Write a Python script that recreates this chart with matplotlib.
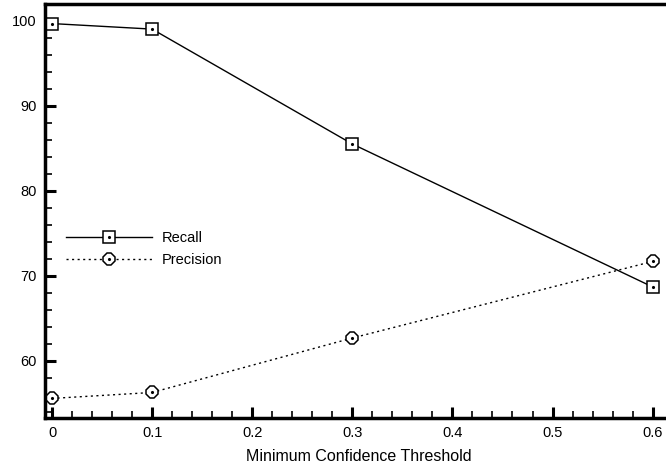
import matplotlib
matplotlib.use("Agg")
import matplotlib.pyplot as plt
from matplotlib.legend_handler import HandlerTuple
from matplotlib.ticker import MultipleLocator

thresholds = [0, 0.1, 0.3, 0.6]
recall = [99.65, 99.0, 85.5, 68.7]
precision = [55.6, 56.3, 62.7, 71.7]
x_ticks = [0, 0.1, 0.2, 0.3, 0.4, 0.5, 0.6]
x_tick_labels = ["0", "0.1", "0.2", "0.3", "0.4", "0.5", "0.6"]
y_ticks = [60, 70, 80, 90, 100]

plt.rcParams['font.family'] = ['Liberation Sans', 'DejaVu Sans']

fig = plt.figure(figsize=(6.66, 4.70), dpi=100)
ax = fig.add_axes([45/666, 1-418/470, 1 - 45/666 + 0.01, (418-4)/470])

l1, = ax.plot(thresholds, recall, color='black', lw=1.0, marker='s', ms=9,
              mfc='white', mec='black', mew=1.1)
d1, = ax.plot(thresholds, recall, ls='none', marker='.', ms=2.5, color='black')
l2, = ax.plot(thresholds, precision, color='black', lw=1.0, ls=(0, (1.5, 2.5)),
              marker='8', ms=9, mfc='white', mec='black', mew=1.1)
d2, = ax.plot(thresholds, precision, ls='none', marker='.', ms=2.5, color='black')

ax.set_xlim(-0.007, 0.62)
ax.set_ylim(53.3, 101.95)
ax.set_xticks(x_ticks)
ax.set_xticklabels(x_tick_labels)
ax.set_yticks(y_ticks)
ax.xaxis.set_minor_locator(MultipleLocator(0.02))
ax.yaxis.set_minor_locator(MultipleLocator(2))
ax.tick_params(which='major', direction='in', length=8, width=2.2, labelsize=10.5, pad=6)
ax.tick_params(which='minor', direction='in', length=5, width=1.2)
ax.tick_params(top=False, right=False, which='both')

for s in ['left', 'bottom', 'top']:
    ax.spines[s].set_linewidth(2.5)
ax.spines['right'].set_visible(False)

ax.set_xlabel("Minimum Confidence Threshold", fontsize=11.5, labelpad=6)

leg = ax.legend([(l1, d1), (l2, d2)], ["Recall", "Precision"],
                handler_map={tuple: HandlerTuple(ndivide=1)},
                loc='upper left', bbox_to_anchor=(0.012, 0.483), frameon=False,
                handlelength=5.9, handletextpad=0.7, numpoints=1,
                fontsize=10.5, labelspacing=0.55)

fig.savefig("out.png", dpi=100)
